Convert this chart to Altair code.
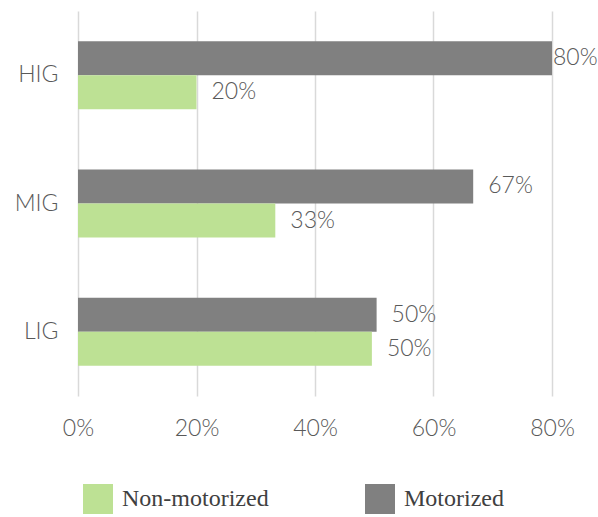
import altair as alt
import pandas as pd

categories = ["HIG", "MIG", "LIG"]
motorized = [0.80, 0.667, 0.504]
non_motorized = [0.20, 0.333, 0.496]
series = ["Non-motorized", "Motorized"]
colors = ["#bde194", "#808080"]
x_ticks = [0, 0.2, 0.4, 0.6, 0.8]

rows = []
for c, m, n in zip(categories, motorized, non_motorized):
    rows.append({"cat": c, "series": "Motorized", "value": m})
    rows.append({"cat": c, "series": "Non-motorized", "value": n})
df = pd.DataFrame(rows)

FONT = "Lato"
TXT = "#595959"
FW = 300

y_enc = alt.Y("cat:N", sort=categories, title=None,
              scale=alt.Scale(paddingInner=0.47, paddingOuter=0.235),
              axis=alt.Axis(domain=False, ticks=False, labelFont=FONT, labelFontSize=23,
                            labelFontWeight=FW, labelColor=TXT, labelPadding=20, grid=False))
yoff = alt.YOffset("series:N", sort=["Motorized", "Non-motorized"],
                   scale=alt.Scale(paddingInner=0, paddingOuter=0))
x_enc = alt.X("value:Q", title=None,
              scale=alt.Scale(domain=[0, 0.8], nice=False),
              axis=alt.Axis(values=x_ticks, format=".0%", domain=False, ticks=False,
                            labelFont=FONT, labelFontSize=23, labelFontWeight=FW,
                            labelColor=TXT, labelFlush=False, labelBound=False,
                            labelPadding=21, gridColor="#d9d9d9", gridWidth=1.5))

base = alt.Chart(df)

bars = base.mark_bar().encode(
    y=y_enc, yOffset=yoff, x=x_enc,
    color=alt.Color("series:N", scale=alt.Scale(domain=series, range=colors),
                    legend=alt.Legend(title=None, orient="none", legendX=5, legendY=473,
                                      direction="horizontal", symbolType="square",
                                      symbolSize=900, symbolStrokeWidth=0,
                                      labelFont="Liberation Serif", labelFontSize=24,
                                      labelColor="#404040", labelOffset=9,
                                      labelLimit=300, columnPadding=96)),
)

labels_far = base.transform_filter("datum.value < 0.75").mark_text(
    align="left", baseline="middle", dx=15, font=FONT, fontSize=23, fontWeight=FW, color=TXT
).encode(y=alt.Y("cat:N", sort=categories), yOffset=yoff, x="value:Q",
         text=alt.Text("value:Q", format=".0%"))

labels_near = base.transform_filter("datum.value >= 0.75").mark_text(
    align="left", baseline="middle", dx=1, font=FONT, fontSize=23, fontWeight=FW, color=TXT
).encode(y=alt.Y("cat:N", sort=categories), yOffset=yoff, x="value:Q",
         text=alt.Text("value:Q", format=".0%"))

chart = alt.layer(bars, labels_far, labels_near).properties(
    width=474, height=385,
    autosize=alt.AutoSizeParams(type="none"),
    padding={"left": 78, "top": 11, "right": 46, "bottom": 121},
).configure_view(stroke=None)

chart.save("out.html", embed_options={"renderer": "svg", "actions": False})
